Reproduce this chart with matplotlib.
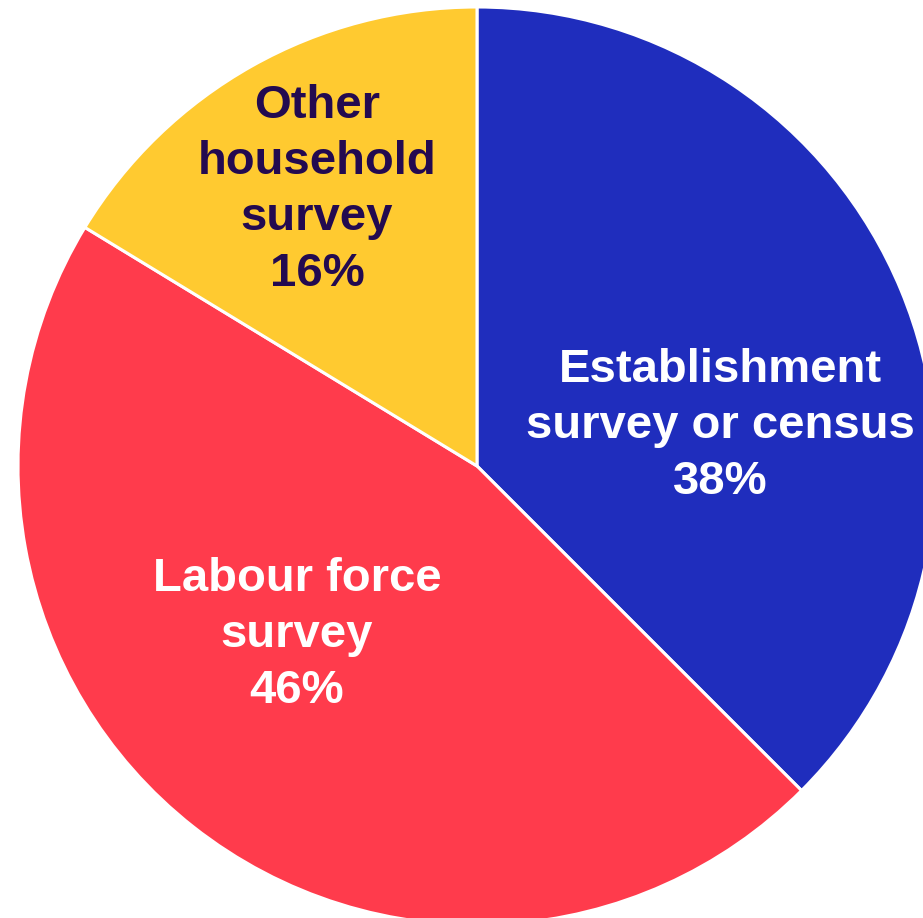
import matplotlib
matplotlib.use("Agg")
import matplotlib.pyplot as plt

categories = ["Establishment\nsurvey or census", "Labour force\nsurvey", "Other\nhousehold\nsurvey"]
shares = [37.5, 46.2, 16.3]
labels_pct = [38, 46, 16]
colors = ["#1f2dbd", "#ff3b4c", "#ffca30"]
text_colors = ["white", "white", "#230a50"]
label_pos = [(720, 426), (297, 635), (317, 190)]

W, H = 923, 918
fig = plt.figure(figsize=(W / 100, H / 100), dpi=100)
ax = fig.add_axes([0, 0, 1, 1])

cx, cy, r = 477, 466, 459
# with inverted y-axis, counterclock=True renders clockwise on screen
wedges, _ = ax.pie(shares, colors=colors, startangle=-90, counterclock=True,
                   center=(cx, cy), radius=r, frame=True,
                   wedgeprops=dict(edgecolor="white", linewidth=2.2))
ax.set_xlim(0, W)
ax.set_ylim(H, 0)
ax.set_aspect("equal")
ax.axis("off")

for cat, v, (x, y), tc in zip(categories, labels_pct, label_pos, text_colors):
    ax.text(x, y, f"{cat}\n{v}%", ha="center", va="center", color=tc,
            fontsize=34, fontweight="bold", family="Liberation Sans", linespacing=1.36)

fig.savefig("out.png", dpi=100)
